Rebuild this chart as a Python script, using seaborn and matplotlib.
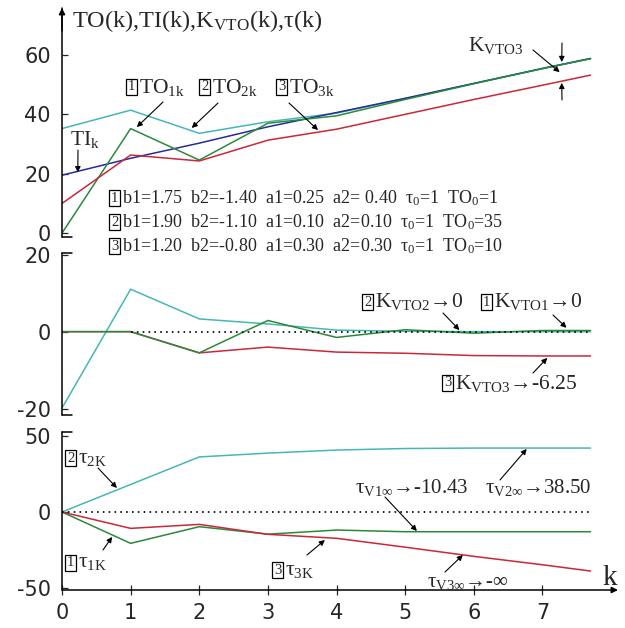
import numpy as np
import pandas as pd
import matplotlib
matplotlib.use('Agg')
import matplotlib.pyplot as plt
import seaborn as sns

# values
k = [0, 1, 2, 3, 4, 5, 6, 7, 7.7]

# top panel: outputs TO1..TO3 and input TI
TO1 = [0.0, 35.2, 24.6, 37.0, 39.5, 45.0, 50.3, 55.4, 58.7]
TO2 = [35.2, 41.4, 33.6, 37.5, 40.4, 45.3, 50.4, 55.5, 58.8]
TO3 = [10.0, 26.3, 24.3, 31.3, 35.0, 40.0, 45.0, 49.8, 53.2]
TI = [19.5, 25.2, 30.3, 35.8, 40.6, 45.4, 50.4, 55.4, 58.8]

# middle panel: K_VTO
KVTO1 = [0.0, 0.0, -5.5, 2.9, -1.5, 0.5, -0.4, 0.3, 0.3]
KVTO2 = [-19.8, 11.0, 3.3, 2.0, 0.4, 0.1, 0.0, 0.0, 0.0]
KVTO3 = [0.0, 0.0, -5.5, -4.0, -5.3, -5.6, -6.2, -6.3, -6.3]

# bottom panel: tau
tau1 = [0.0, -20.5, -9.6, -14.5, -11.8, -12.9, -12.9, -12.9, -12.9]
tau2 = [0.0, 18.0, 36.0, 38.5, 40.5, 41.5, 41.8, 41.8, 41.8]
tau3 = [0.0, -10.7, -8.1, -14.6, -17.2, -23.0, -29.0, -34.5, -38.6]

xticks = [0, 1, 2, 3, 4, 5, 6, 7]
params = ["b1=1.75  b2=-1.40  a1=0.25  a2= 0.40  τ$_0$=1  TO$_0$=1",
          "b1=1.90  b2=-1.10  a1=0.10  a2=0.10  τ$_0$=1  TO$_0$=35",
          "b1=1.20  b2=-0.80  a1=0.30  a2=0.30  τ$_0$=1  TO$_0$=10"]

cyan, green, red, blue = '#45b8b5', '#2a8a3a', '#c8283a', '#262a9a'

sns.set_style('white')
plt.rcParams['font.family'] = ['Liberation Sans Narrow', 'DejaVu Sans']
plt.rcParams['axes.unicode_minus'] = False
plt.rcParams['mathtext.fontset'] = 'custom'
plt.rcParams['mathtext.rm'] = 'Liberation Serif'
plt.rcParams['mathtext.it'] = 'Liberation Serif:italic'
plt.rcParams['mathtext.default'] = 'rm'

W, H = 625, 628
fig = plt.figure(figsize=(6.25, 6.28), dpi=100)
ax1 = fig.add_axes([0.0992, 0.6226, 0.8896, 0.3647])
ax2 = fig.add_axes([0.0992, 0.3392, 0.8896, 0.2580])
ax3 = fig.add_axes([0.0992, 0.0605, 0.8896, 0.2516])


def long(series):
    return pd.concat([pd.DataFrame({'k': k, 'v': v, 's': n}) for n, v in series.items()])


def draw(ax, series, pal):
    sns.lineplot(data=long(series), x='k', y='v', hue='s', palette=pal, legend=False,
                 lw=1.1, ax=ax, estimator=None, sort=False)


draw(ax1, {'TO2': TO2, 'TI': TI, 'TO1': TO1, 'TO3': TO3}, [cyan, blue, green, red])
draw(ax2, {'K2': KVTO2, 'K3': KVTO3, 'K1': KVTO1}, [cyan, red, green])
draw(ax3, {'t2': tau2, 't1': tau1, 't3': tau3}, [cyan, green, red])
ax2.hlines(0, k[1], k[-1], colors='k', linestyles=(0, (1, 2.5)), lw=1.2)
ax3.hlines(0, k[0], k[-1], colors='k', linestyles=(0, (1, 2.5)), lw=1.2)

lims = [(-1.3, 75.8), (-21.6, 20.4), (-51, 52.3)]
yt = [[0, 20, 40, 60], [-20, 0, 20], [-50, 0, 50]]
for ax, yl, t in zip([ax1, ax2, ax3], lims, yt):
    ax.set_xlim(0, 8.1)
    ax.set_ylim(*yl)
    ax.set_yticks(t)
    ax.set_xlabel('')
    ax.set_ylabel('')
    for s in ax.spines.values():
        s.set_visible(False)
    ax.patch.set_alpha(0)
    ax.tick_params(axis='y', direction='in', length=4, width=0.9, pad=8, labelsize=15, left=True)
    ax.plot([0, 0], [0, 1], transform=ax.transAxes, color='k', lw=1.1, clip_on=False)

ax1.set_xticks([])
ax2.set_xticks([])
ax3.set_xticks(xticks)
ax3.tick_params(axis='x', direction='inout', length=7, width=0.9, pad=6, labelsize=15, bottom=True)

# axis arrows and corner ticks
arr = dict(arrowstyle='-|>', color='k', lw=1.1, mutation_scale=9, shrinkA=0, shrinkB=0)
ax1.annotate('', xy=(0, 1), xycoords='axes fraction', xytext=(0, 0.9), arrowprops=arr)
ax3.annotate('', xy=(1, 0), xycoords='axes fraction', xytext=(0, 0), arrowprops=arr)
cw = 0.018
ax1.plot([0, cw], [0, 0], transform=ax1.transAxes, color='k', lw=1.1, clip_on=False)
ax2.plot([0, cw], [0, 0], transform=ax2.transAxes, color='k', lw=1.1, clip_on=False)
ax2.plot([0, cw], [1, 1], transform=ax2.transAxes, color='k', lw=1.1, clip_on=False)
ax3.plot([0, cw], [1, 1], transform=ax3.transAxes, color='k', lw=1.1, clip_on=False)

serif = ['Liberation Serif', 'DejaVu Serif']


def label(x, y, s, size=15.5, **kw):
    fig.text(x / W, 1 - y / H, s, fontsize=size, family=serif, va='center', ha='left', **kw)


def boxed(x, y, d, s, size=15.5):
    label(x + 1, y, d, 10.5, bbox=dict(boxstyle='square,pad=0.12', fc='none', ec='k', lw=0.9))
    label(x + 12, y, s, size)


def pointer(ax, xy, start):
    ax.annotate('', xy=xy, xycoords='data', xytext=(start[0], H - start[1]),
                textcoords='figure pixels',
                arrowprops=dict(arrowstyle='-|>', color='k', lw=0.8, mutation_scale=8,
                                shrinkA=0, shrinkB=0))


label(72, 21, "TO(k),TI(k),K$_{\\rm VTO}$(k),τ(k)", 17.5)

# top panel labels
boxed(127, 87, '1', "TO$_{\\rm 1k}$")
boxed(200, 87, '2', "TO$_{\\rm 2k}$")
boxed(277, 87, '3', "TO$_{\\rm 3k}$")
pointer(ax1, (1.09, 35.7), (163, 102))
pointer(ax1, (1.89, 35.4), (218, 103))
pointer(ax1, (3.73, 34.7), (289, 103))
label(70, 140, "TI$_{\\rm k}$")
pointer(ax1, (0.23, 20.5), (78, 150))
label(468, 46, "K$_{\\rm VTO3}$")
pointer(ax1, (7.25, 54.2), (533, 50))
pointer(ax1, (7.28, 57.6), (562, 43))
pointer(ax1, (7.28, 50.6), (562, 100))

for i, s in enumerate(params):
    boxed(110, 198 + 24 * i, str(i + 1), s, 13)

# middle panel labels
boxed(363, 302, '2', "K$_{\\rm VTO2}$→0")
boxed(482, 302, '1', "K$_{\\rm VTO1}$→0")
boxed(443, 383, '3', "K$_{\\rm VTO3}$→-6.25")
pointer(ax2, (5.79, 0.4), (443, 313))
pointer(ax2, (7.35, 1.0), (553, 315))
pointer(ax2, (7.07, -6.8), (533, 373))

# bottom panel labels
boxed(66, 458, '2', "τ$_{\\rm 2K}$")
boxed(66, 563, '1', "τ$_{\\rm 1K}$")
boxed(273, 570, '3', "τ$_{\\rm 3K}$")
pointer(ax3, (0.8, 15.7), (98, 468))
pointer(ax3, (0.73, -16.3), (103, 550))
pointer(ax3, (3.83, -18.3), (307, 555))
label(355, 488, "τ$_{\\rm V1\\infty}$→-10.43", 15)
label(485, 488, "τ$_{\\rm V2\\infty}$→38.50", 15)
label(427, 582, "τ$_{\\rm V3\\infty}$→-∞", 15)
pointer(ax3, (5.17, -12.4), (385, 497))
pointer(ax3, (6.77, 41.2), (500, 480))
pointer(ax3, (5.84, -28.1), (445, 572))
label(602, 578, "k", 21)

fig.savefig('out.png', dpi=100)
